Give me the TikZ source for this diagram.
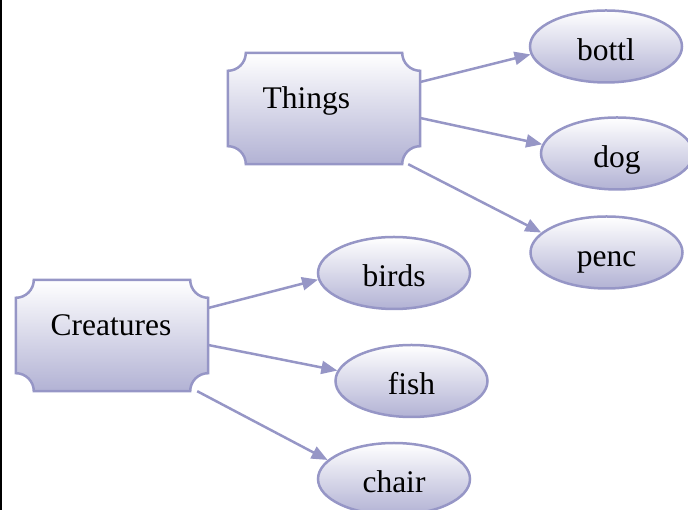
\documentclass[tikz,border=0pt]{standalone}
\usepackage{fontspec}
\setmainfont{Liberation Serif}
\usetikzlibrary{shapes.geometric,arrows.meta,backgrounds}
\definecolor{lineblue}{RGB}{150,150,198}
\definecolor{shadeblue}{RGB}{178,178,212}
\begin{document}
\begin{tikzpicture}[x=1pt, y=1pt,
    group/.style={rectangle, minimum width=192pt, minimum height=111pt, inner xsep=34.7pt, text width=122.6pt, align=left, text height=0pt, text depth=0pt, font=\rmfamily\fontsize{31.5}{36}\selectfont},
    scoop/.style={draw=lineblue, line width=2.5pt, top color=white, bottom color=shadeblue},
    item/.style={ellipse, draw=lineblue, line width=2.5pt, top color=white, bottom color=shadeblue, minimum width=152pt, minimum height=72pt, inner sep=0pt, text height=28pt, text depth=0pt, font=\rmfamily\fontsize{31.5}{36}\selectfont},
    link/.style={-{Triangle[length=16pt, width=13pt]}, draw=lineblue, line width=2.5pt}
]
    \useasboundingbox (0,0) rectangle (688,510);
    \clip (0,0) rectangle (688,510);
    \draw[line width=1.5pt] (0.75,0) -- (0.75,510);

    % Groups
    \node[group] (things) at (324,401.5) {Things};
    \node[group] (creatures) at (112,174.5) {Creatures};

    % Group frames with scooped corners
    \begin{pgfonlayer}{background}
    \foreach \g in {things,creatures}
        \path[scoop] ([xshift=18pt]\g.north west) -- ([xshift=-18pt]\g.north east)
            arc[start angle=180, end angle=270, radius=18pt] -- ([yshift=18pt]\g.south east)
            arc[start angle=90, end angle=180, radius=18pt] -- ([xshift=18pt]\g.south west)
            arc[start angle=0, end angle=90, radius=18pt] -- ([yshift=-18pt]\g.north west)
            arc[start angle=270, end angle=360, radius=18pt] -- cycle;
    \end{pgfonlayer}

    % Items
    \node[item] (bottl) at (606,463.5) {bottl};
    \node[item] (dog) at (617,356.5) {dog};
    \node[item] (penc) at (606.5,257.5) {penc};
    \node[item] (birds) at (394,237) {birds};
    \node[item] (fish) at (411.5,129) {fish};
    \node[item] (chair) at (394,31) {chair};

    % Links
    \draw[link] ([yshift=26.5pt]things.east) -- (bottl.186);
    \draw[link] ([yshift=-9.5pt]things.east) -- (dog.173);
    \draw[link] ([xshift=-12pt]things.south east) -- (penc.163);
    \draw[link] ([yshift=27.5pt]creatures.east) -- (birds.185);
    \draw[link] ([yshift=-9.5pt]creatures.east) -- (fish.172);
    \draw[link] ([xshift=-11pt]creatures.south east) -- (chair.164);
\end{tikzpicture}
\end{document}
